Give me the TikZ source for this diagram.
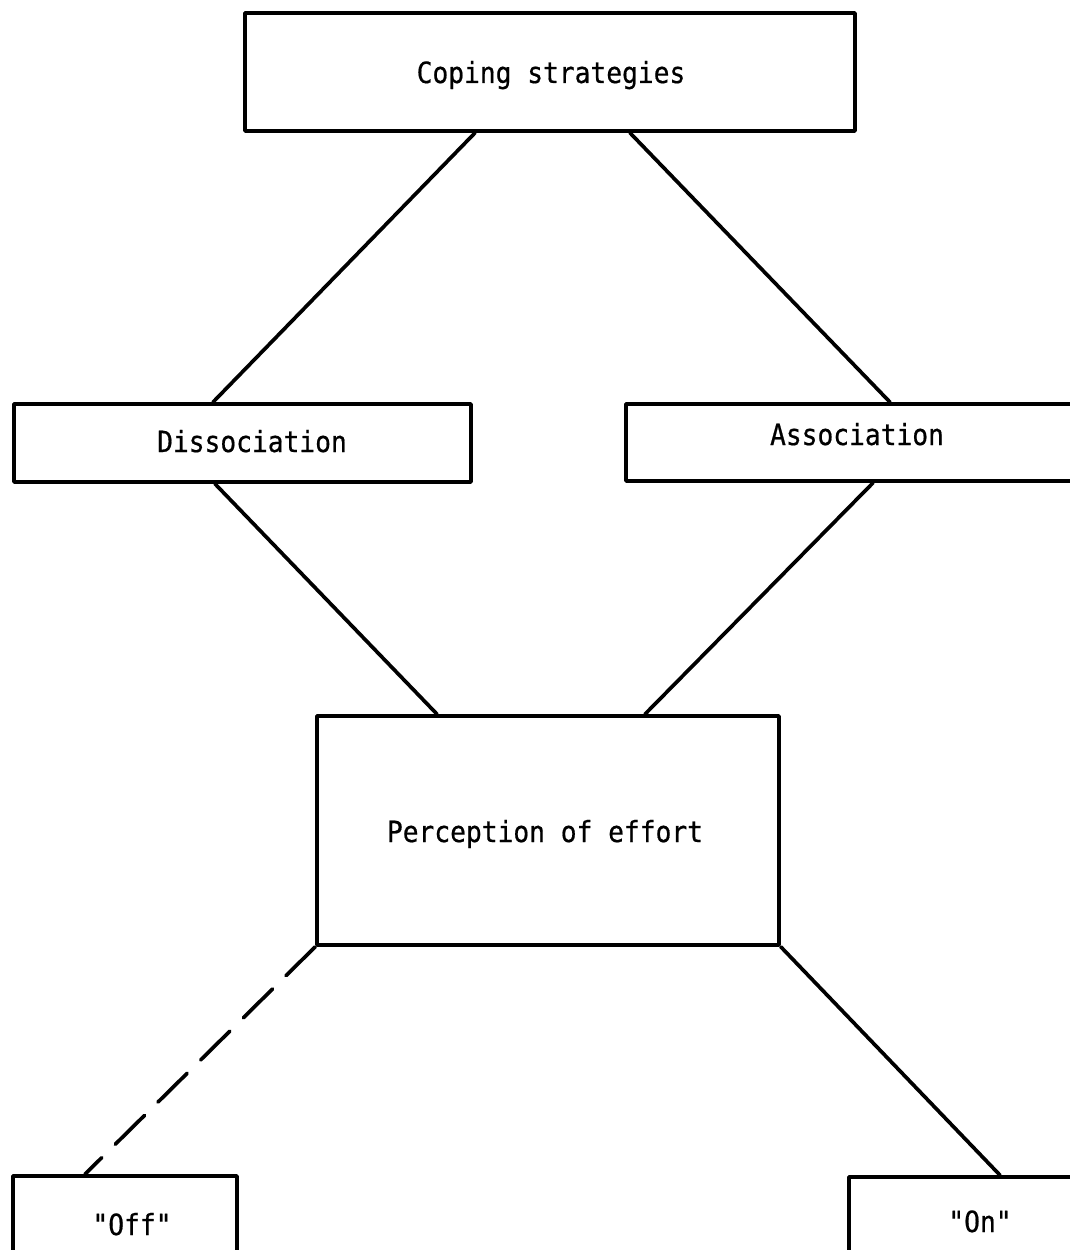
\documentclass[tikz,border=0pt]{standalone}
\usepackage{fontspec}
\newfontfamily\gothic[FakeStretch=0.9,FakeBold=0.6]{DejaVu Sans Mono}
\begin{document}
\begin{tikzpicture}[x=0.02cm,y=-0.02cm,
  box/.style={draw, line width=2.1pt, line join=round, inner sep=0pt},
  conn/.style={line width=2.1pt, line cap=round},
  lbl/.style={anchor=base, inner sep=0pt, font=\gothic\fontsize{16.6}{20}\selectfont}]
\useasboundingbox (0,0) rectangle (1070,1250);
\clip (0,0) rectangle (1070,1250);
\fill[white] (0,0) rectangle (1070,1250);
% boxes
\node[box, minimum width=12.2cm, minimum height=2.36cm] (top) at (550,72) {};
\node[box, minimum width=9.14cm, minimum height=1.56cm] (dis) at (242.5,443) {};
\node[box, minimum width=9.28cm, minimum height=1.54cm] (asc) at (858,442.5) {};
\node[box, minimum width=9.24cm, minimum height=4.58cm] (per) at (548,830.5) {};
\node[box, minimum width=4.48cm, minimum height=1.88cm] (off) at (125,1223) {};
\node[box, minimum width=5.24cm, minimum height=1.72cm] (on) at (980,1220) {};
% texts
\node[lbl] (ttop) at (551,83) {Coping strategies};
\node[lbl] (tdis) at (252,452) {Dissociation};
\node[lbl] (tasc) at (857,445) {Association};
\node[lbl] (tper) at (545,842) {Perception of effort};
\node[lbl] (toff) at (132,1235) {"Off"};
\node[lbl] (ton) at (980,1232) {"On"};
% connectors
\draw[conn] ([xshift=-1.5cm]top.south) -- ([xshift=-0.59cm]dis.north);
\draw[conn] ([xshift=1.6cm]top.south) -- ([xshift=0.64cm]asc.north);
\draw[conn] ([xshift=-0.55cm]dis.south) -- ([xshift=-2.22cm]per.north);
\draw[conn] ([xshift=0.3cm]asc.south) -- ([xshift=1.94cm]per.north);
\draw[conn, dash pattern=on 0.82cm off 0.38cm] (per.south west) -- ([xshift=-0.8cm]off.north);
\draw[conn] (per.south east) -- ([xshift=0.4cm]on.north);
\end{tikzpicture}
\end{document}
